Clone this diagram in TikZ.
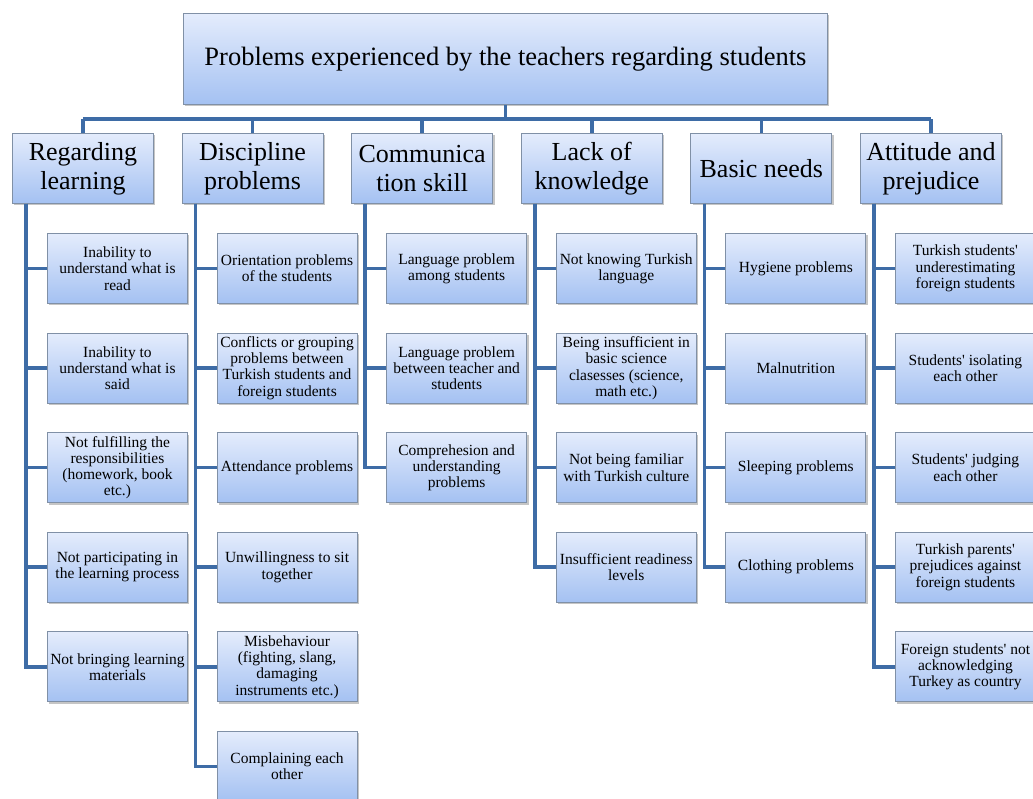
\documentclass[tikz,border=0pt]{standalone}
\usepackage{fontspec}
\setmainfont{Liberation Serif}
\usetikzlibrary{shadows}
\definecolor{linkblue}{RGB}{62,108,166}
\definecolor{boxtop}{RGB}{228,236,252}
\definecolor{boxbot}{RGB}{164,193,242}
\definecolor{boxedge}{RGB}{128,144,166}
\newcommand{\apo}{\textquotesingle}
\tikzset{
  boxbase/.style={draw=boxedge, line width=0.9pt, top color=boxtop, bottom color=boxbot,
    drop shadow={shadow xshift=2pt, shadow yshift=-2pt, fill=black!45, opacity=0.5},
    align=center, anchor=north west, inner xsep=0pt, inner ysep=1pt},
  rootbox/.style={boxbase, minimum width=644pt, minimum height=91pt, font=\fontsize{26.5}{30}\selectfont},
  headbox/.style={boxbase, minimum width=141pt, minimum height=70pt, font=\fontsize{26}{29}\selectfont},
  itembox/.style={boxbase, minimum width=140pt, minimum height=70pt, font=\fontsize{15.5}{16.3}\selectfont},
  link/.style={draw=linkblue, line width=3.6pt, line join=miter}
}
\begin{document}
\begin{tikzpicture}[x=1pt,y=-1pt]
\useasboundingbox (0,0) rectangle (1033,798);
\fill[white] (0,0) rectangle (1033,798);
\coordinate (bar) at (0,119);
% root
\node[rootbox] (root) at (183,13) {Problems experienced by the teachers regarding students};
% heads
\node[headbox] (h1) at (12,133) {Regarding\\learning};
\node[headbox] (h2) at (181.6,133) {Discipline\\problems};
\node[headbox] (h3) at (351.2,133) {Communica\\tion skill};
\node[headbox] (h4) at (520.8,133) {Lack of\\knowledge};
\node[headbox] (h5) at (690.4,133) {Basic needs};
\node[headbox] (h6) at (860,133) {Attitude and\\prejudice};
% column 1
\node[itembox] (a1) at (47,233) {Inability to\\understand what is\\read};
\node[itembox] (a2) at (47,332.6) {Inability to\\understand what is\\said};
\node[itembox] (a3) at (47,432.2) {Not fulfilling the\\responsibilities\\(homework, book\\etc.)};
\node[itembox] (a4) at (47,531.8) {Not participating in\\the learning process};
\node[itembox] (a5) at (47,631.4) {Not bringing learning\\materials};
% column 2
\node[itembox] (b1) at (216.6,233) {Orientation problems\\of the students};
\node[itembox] (b2) at (216.6,332.6) {Conflicts or grouping\\problems between\\Turkish students and\\foreign students};
\node[itembox] (b3) at (216.6,432.2) {Attendance problems};
\node[itembox] (b4) at (216.6,531.8) {Unwillingness to sit\\together};
\node[itembox] (b5) at (216.6,631.4) {Misbehaviour\\(fighting, slang,\\damaging\\instruments etc.)};
\node[itembox] (b6) at (216.6,731) {Complaining each\\other};
% column 3
\node[itembox] (c1) at (386.2,233) {Language problem\\among students};
\node[itembox] (c2) at (386.2,332.6) {Language problem\\between teacher and\\students};
\node[itembox] (c3) at (386.2,432.2) {Comprehesion and\\understanding\\problems};
% column 4
\node[itembox] (d1) at (555.8,233) {Not knowing Turkish\\language};
\node[itembox] (d2) at (555.8,332.6) {Being insufficient in\\basic science\\clasesses (science,\\math etc.)};
\node[itembox] (d3) at (555.8,432.2) {Not being familiar\\with Turkish culture};
\node[itembox] (d4) at (555.8,531.8) {Insufficient readiness\\levels};
% column 5
\node[itembox] (e1) at (725.4,233) {Hygiene problems};
\node[itembox] (e2) at (725.4,332.6) {Malnutrition};
\node[itembox] (e3) at (725.4,432.2) {Sleeping problems};
\node[itembox] (e4) at (725.4,531.8) {Clothing problems};
% column 6
\node[itembox] (f1) at (895,233) {Turkish students\apo\\underestimating\\foreign students};
\node[itembox] (f2) at (895,332.6) {Students\apo{} isolating\\each other};
\node[itembox] (f3) at (895,432.2) {Students\apo{} judging\\each other};
\node[itembox] (f4) at (895,531.8) {Turkish parents\apo\\prejudices against\\foreign students};
\node[itembox] (f5) at (895,631.4) {Foreign students\apo{} not\\acknowledging\\Turkey as country};
% top connectors
\draw[link] (root.south) -- (root.south |- bar);
\draw[link] (h1.north |- bar) -- (h6.north |- bar);
\foreach \h in {h1,h2,h3,h4,h5,h6}{
  \draw[link] (\h.north) -- (\h.north |- bar);
}
% trunks
\foreach \h/\list in {h1/{a1,a2,a3,a4,a5},h2/{b1,b2,b3,b4,b5,b6},h3/{c1,c2,c3},h4/{d1,d2,d3,d4},h5/{e1,e2,e3,e4},h6/{f1,f2,f3,f4,f5}}{
  \foreach \c in \list {
    \draw[link] ([xshift=14pt]\h.south west) |- (\c.west);
  }
}
\end{tikzpicture}
\end{document}
